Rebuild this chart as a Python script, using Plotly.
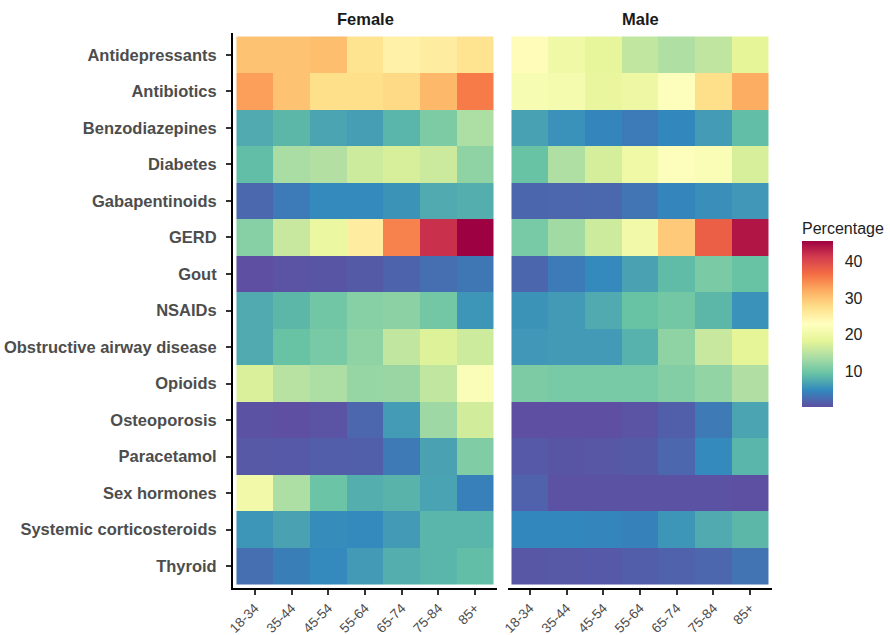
import plotly.graph_objects as go
from plotly.subplots import make_subplots

age_groups = ["18-34", "35-44", "45-54", "55-64", "65-74", "75-84", "85+"]
drug_groups = ["Antidepressants", "Antibiotics", "Benzodiazepines", "Diabetes",
               "Gabapentinoids", "GERD", "Gout", "NSAIDs", "Obstructive airway disease",
               "Opioids", "Osteoporosis", "Paracetamol", "Sex hormones",
               "Systemic corticosteroids", "Thyroid"]

female_values = [
    [30.0, 30.0, 30.5, 27.0, 25.0, 25.5, 27.0],
    [33.0, 30.0, 27.5, 27.5, 28.0, 31.0, 35.5],
    [7.5, 8.5, 7.0, 6.5, 8.3, 10.8, 14.0],
    [9.0, 13.8, 14.5, 16.5, 17.2, 16.3, 12.0],
    [2.3, 3.8, 5.0, 5.0, 5.7, 7.5, 7.8],
    [11.5, 16.0, 19.5, 25.5, 35.0, 42.0, 45.5],
    [0.3, 0.6, 0.8, 1.2, 2.0, 2.8, 3.5],
    [7.5, 8.5, 10.0, 11.5, 11.8, 10.2, 5.8],
    [7.5, 9.5, 10.5, 12.0, 15.5, 17.8, 16.5],
    [17.5, 14.8, 14.0, 12.5, 12.7, 15.5, 22.0],
    [0.5, 0.3, 0.6, 2.2, 6.3, 13.0, 16.8],
    [1.0, 1.1, 1.5, 1.6, 3.7, 6.8, 11.0],
    [20.5, 14.0, 9.7, 7.8, 8.2, 6.9, 4.2],
    [5.8, 6.8, 5.2, 5.0, 6.2, 8.3, 8.3],
    [2.8, 4.0, 5.0, 6.2, 7.8, 8.3, 9.0],
]

male_values = [
    [23.5, 20.0, 18.7, 15.5, 14.2, 15.4, 18.5],
    [21.5, 21.0, 19.0, 19.8, 22.5, 27.5, 32.0],
    [6.7, 5.5, 4.6, 3.8, 4.8, 6.3, 9.0],
    [9.5, 14.2, 17.0, 20.0, 22.5, 21.8, 17.2],
    [2.1, 2.2, 2.3, 3.3, 4.6, 5.4, 6.0],
    [10.5, 13.3, 16.5, 20.5, 29.5, 37.8, 44.0],
    [2.1, 3.8, 5.0, 6.8, 8.9, 10.6, 9.5],
    [5.7, 6.2, 7.5, 9.5, 10.2, 8.5, 5.5],
    [6.0, 6.2, 6.2, 8.0, 12.0, 16.0, 18.5],
    [10.8, 10.5, 10.5, 10.5, 11.3, 12.3, 14.3],
    [0.3, 0.3, 0.3, 0.6, 1.6, 3.7, 7.0],
    [1.1, 0.8, 0.9, 1.2, 2.2, 5.0, 8.3],
    [1.8, 0.5, 0.5, 0.5, 0.5, 0.5, 0.4],
    [4.8, 4.8, 4.6, 4.3, 5.8, 7.5, 8.5],
    [0.9, 1.0, 1.1, 1.5, 1.8, 2.2, 3.2],
]

panels = ["Female", "Male"]
colorbar_ticks = [10, 20, 30, 40]

spectral_rev = ["#5E4FA2", "#3288BD", "#66C2A5", "#ABDDA4", "#E6F598", "#FFFFBF",
                "#FEE08B", "#FDAE61", "#F46D43", "#D53E4F", "#9E0142"]
colorscale = [[i / (len(spectral_rev) - 1), c] for i, c in enumerate(spectral_rev)]

fig = make_subplots(rows=1, cols=2, shared_yaxes=True, horizontal_spacing=0.01)

for i, vals in enumerate([female_values, male_values]):
    fig.add_trace(go.Heatmap(
        z=vals, x=age_groups, y=drug_groups, coloraxis="coloraxis",
        xgap=0, ygap=0,
        hovertemplate="%{y}<br>%{x}<br>%{z:.1f}%<extra>" + panels[i] + "</extra>"),
        row=1, col=i + 1)

W, H = 890, 635
dx = 0.095
dy = 0.096
FONT = "Liberation Sans, Arial, sans-serif"
tick_font = dict(family=FONT, size=13.5, color="#4D4D4D")
ydom = [1 - 588 / H, 1 - 33 / H]

fig.update_layout(
    width=W, height=H,
    margin=dict(l=0, r=0, t=0, b=0, autoexpand=False),
    paper_bgcolor="white", plot_bgcolor="white",
    font=dict(family=FONT, color="#222222"),
    coloraxis=dict(
        colorscale=colorscale, cmin=0.3, cmax=45.5,
        colorbar=dict(
            title=dict(text="Percentage", side="top",
                       font=dict(size=16, color="#222222", family=FONT)),
            thickness=31, thicknessmode="pixels",
            len=188, lenmode="pixels",
            x=802 / W, xanchor="left", xpad=0, ypad=0,
            y=1 - 407 / H, yanchor="bottom",
            tickvals=colorbar_ticks, ticks="outside", ticklen=9,
            tickcolor="white", tickwidth=1,
            tickfont=dict(size=16, color="#222222", family=FONT),
            outlinewidth=0,
        ),
    ),
    xaxis=dict(domain=[233 / W, 497 / W]),
    xaxis2=dict(domain=[508 / W, 772 / W]),
    yaxis=dict(domain=ydom),
    yaxis2=dict(domain=ydom),
)

for ax in ["xaxis", "xaxis2"]:
    fig.layout[ax].update(
        type="category", range=[-0.5 - dx, 6.5 + dx], automargin=False,
        showline=True, linecolor="black", linewidth=2,
        ticks="outside", ticklen=5, tickwidth=1.5, tickcolor="#333333",
        ticklabelstandoff=0,
        tickangle=-45, tickfont=tick_font, showgrid=False, zeroline=False,
        fixedrange=True,
    )

fig.update_yaxes(type="category", range=[14.5 + dy, -0.5 - dy], showgrid=False,
                 zeroline=False, automargin=False)
fig.layout.yaxis.update(
    showline=True, linecolor="black", linewidth=2,
    ticks="outside", ticklen=5, tickwidth=1.5, tickcolor="#333333",
    ticklabelstandoff=6,
    tickfont=dict(family=FONT, size=16.5, color="#4D4D4D", weight="bold"),
)
fig.layout.yaxis2.update(showline=False, ticks="", showticklabels=False)

for name, ax in zip(panels, ["xaxis", "xaxis2"]):
    d = fig.layout[ax].domain
    fig.add_annotation(
        text="<b>" + name + "</b>", x=(d[0] + d[1]) / 2, y=1 - 19 / H,
        xref="paper", yref="paper", showarrow=False,
        font=dict(size=16.5, color="#1A1A1A", family=FONT),
        xanchor="center", yanchor="middle")

fig.write_html("out.html")
